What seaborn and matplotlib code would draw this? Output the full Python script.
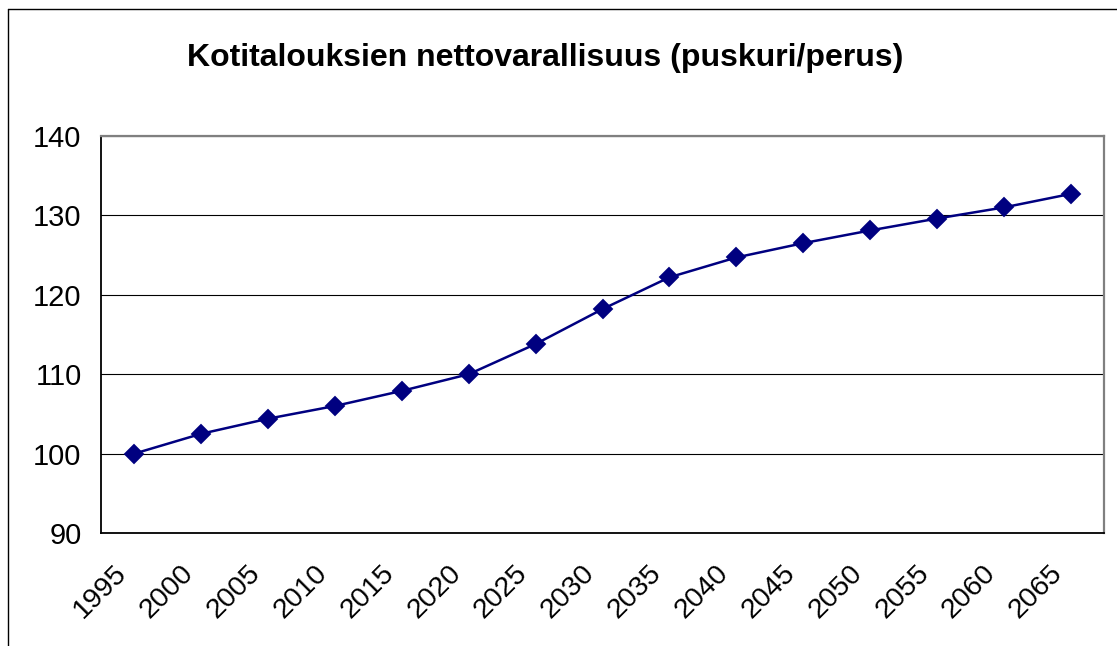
import numpy as np
import pandas as pd
import matplotlib
matplotlib.use("Agg")
import matplotlib.pyplot as plt
import matplotlib.transforms as mtransforms
from matplotlib.lines import Line2D
import seaborn as sns

# data
years = ["1995", "2000", "2005", "2010", "2015", "2020", "2025", "2030",
         "2035", "2040", "2045", "2050", "2055", "2060", "2065"]
values = [100.0, 102.5, 104.4, 106.0, 107.9, 110.0, 113.8, 118.2,
          122.2, 124.7, 126.5, 128.1, 129.6, 131.0, 132.7]
y_ticks = [90, 100, 110, 120, 130, 140]

title = "Kotitalouksien nettovarallisuus (puskuri/perus)"

sns.set_style("white")
plt.rcParams["font.family"] = ["Liberation Sans", "DejaVu Sans"]
plt.rcParams["text.color"] = "black"
plt.rcParams["xtick.color"] = "black"
plt.rcParams["ytick.color"] = "black"

df = pd.DataFrame({"vuosi": years, "arvo": values})

fig = plt.figure(figsize=(11.17, 6.46), dpi=100)
ax = fig.add_axes([0.0904, 0.1749, 0.8980, 0.6146])

sns.pointplot(data=df, x="vuosi", y="arvo", color="#000080", marker="D",
              markersize=9.5, linewidth=1.8, ax=ax, errorbar=None)

ax.set_xlim(-0.5, len(years) - 0.5)
ax.set_ylim(y_ticks[0], y_ticks[-1])
ax.set_yticks(y_ticks)
ax.set_yticklabels([str(t) for t in y_ticks], fontsize=21)
ax.grid(axis="y", color="black", linewidth=0.8)
ax.set_axisbelow(True)

# category labels, ticks between the categories
ax.set_xticks(range(len(years)))
ax.set_xticklabels(years, fontsize=20.5, rotation=45, ha="right",
                   rotation_mode="anchor")
ax.set_xticks(np.arange(-0.5, len(years)), minor=True)
ax.tick_params(axis="x", which="major", length=0, pad=12)
ax.tick_params(axis="x", which="minor", length=6, width=1.1, color="black",
               direction="out")
ax.tick_params(axis="y", length=5, width=1.1, color="black",
               direction="out", pad=9)
ax.set_xlabel("")
ax.set_ylabel("")

shift = mtransforms.ScaledTranslation(-0.21, -0.10, fig.dpi_scale_trans)
for lab in ax.get_xticklabels():
    lab.set_transform(lab.get_transform() + shift)

for side in ["left", "bottom"]:
    ax.spines[side].set_color("black")
    ax.spines[side].set_linewidth(1.3)
for side in ["top", "right"]:
    ax.spines[side].set_visible(True)
    ax.spines[side].set_color("#808080")
    ax.spines[side].set_linewidth(1.6)

fig.text(0.488, 0.910, title, fontsize=23, fontweight="bold",
         ha="center", va="center")

# chart area border (only left and top visible in the crop)
fig.add_artist(Line2D([0.0072, 0.0072], [0.0, 0.986], color="black",
                      linewidth=1.0, transform=fig.transFigure))
fig.add_artist(Line2D([0.0072, 1.0], [0.986, 0.986], color="black",
                      linewidth=1.0, transform=fig.transFigure))

fig.savefig("out.png", dpi=100)
